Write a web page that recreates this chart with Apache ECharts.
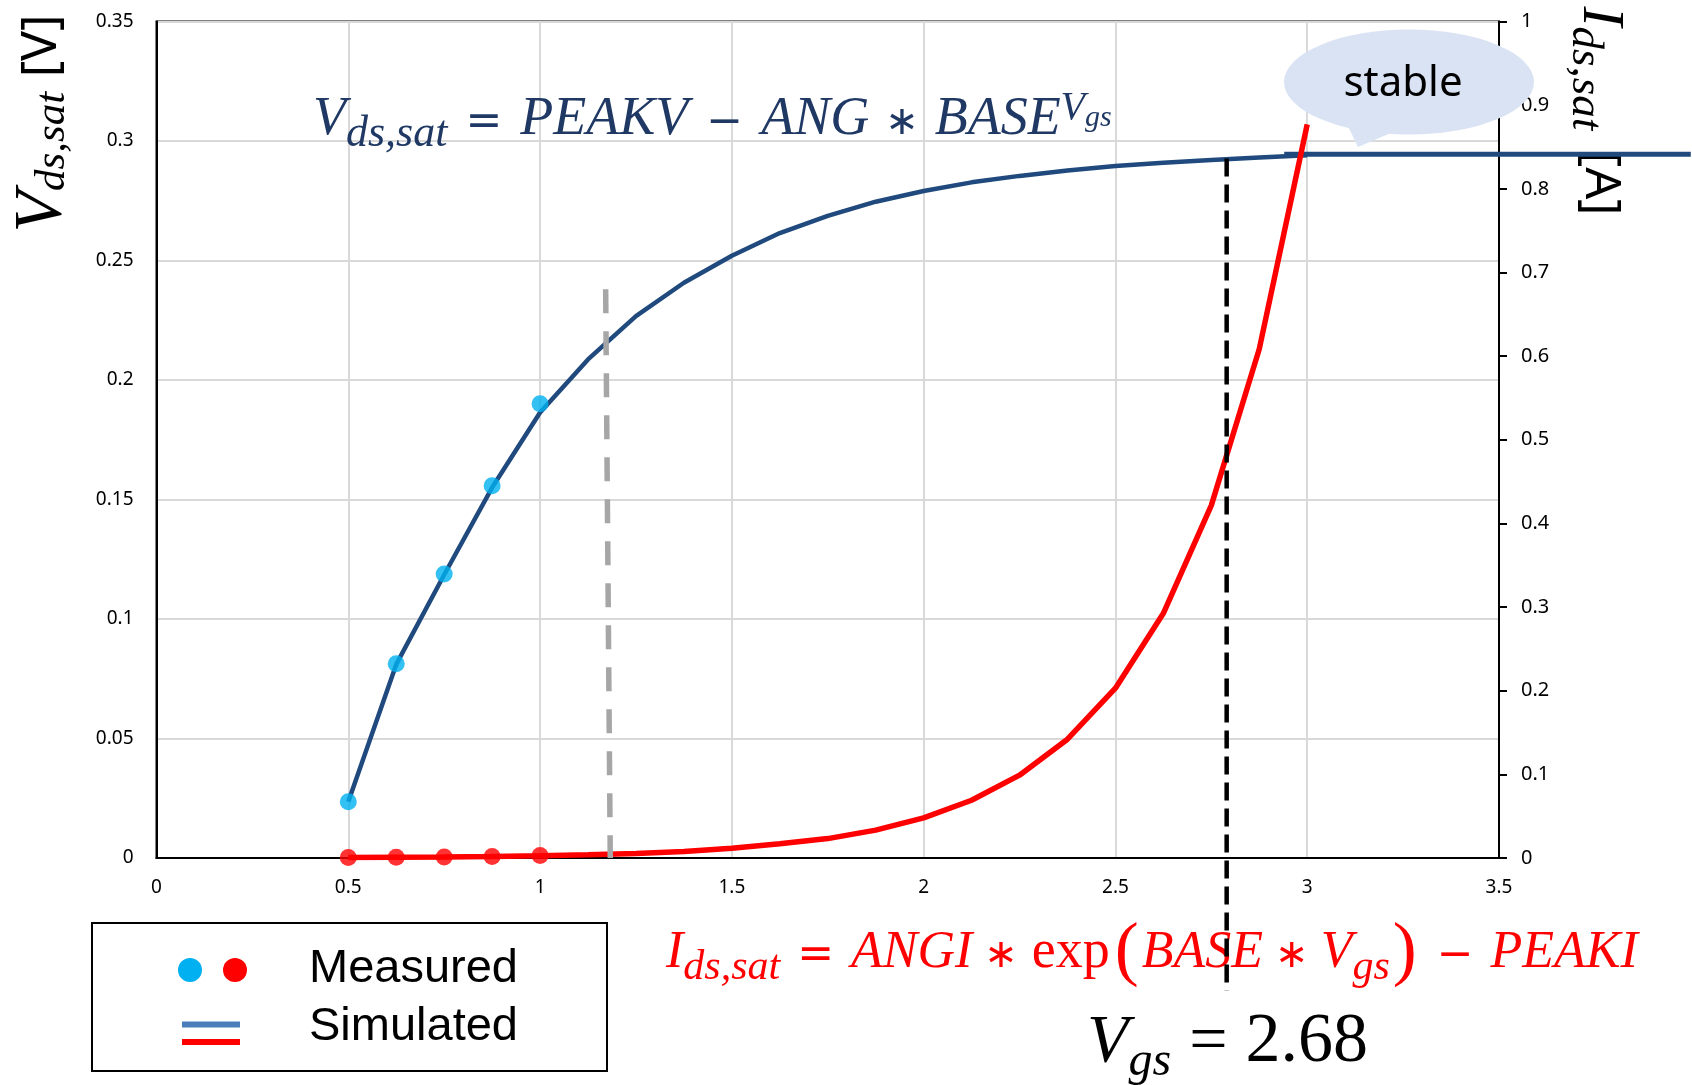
<!DOCTYPE html>
<html><head><meta charset="utf-8">
<script src="https://cdn.jsdelivr.net/npm/echarts@6/dist/echarts.min.js"></script>
<style>html,body{margin:0;padding:0;background:#fff}#c{width:1692px;height:1085px}</style>
</head><body><div id="c"></div>
<script>
// ---- data ----
const xTicks = [0, 0.5, 1, 1.5, 2, 2.5, 3, 3.5];
const leftTicks = [0, 0.05, 0.1, 0.15, 0.2, 0.25, 0.3, 0.35];
const rightTicks = [0, 0.1, 0.2, 0.3, 0.4, 0.5, 0.6, 0.7, 0.8, 0.9, 1];

const vgsSim = [0.5, 0.625, 0.75, 0.875, 1.0, 1.125, 1.25, 1.375, 1.5, 1.625, 1.75, 1.875, 2.0, 2.125, 2.25, 2.375, 2.5, 2.625, 2.75, 2.875, 3.0];
const vdsatSim = [0.0235, 0.081, 0.1185, 0.155, 0.1864, 0.2086, 0.2267, 0.2407, 0.252, 0.2615, 0.2687, 0.2746, 0.2791, 0.2827, 0.2854, 0.2877, 0.2895, 0.2909, 0.2920, 0.2931, 0.2940];
const idsatSim = [0.0006, 0.0009, 0.0012, 0.0018, 0.0027, 0.0038, 0.0055, 0.0078, 0.0116, 0.017, 0.0232, 0.0333, 0.048, 0.069, 0.099, 0.142, 0.203, 0.2925, 0.4216, 0.6085, 0.877];

const vgsMeas = [0.5, 0.625, 0.75, 0.875, 1.0];
const vdsatMeas = [0.0235, 0.0813, 0.1188, 0.1558, 0.1901];
const idsatMeas = [0.0005, 0.0008, 0.0012, 0.0018, 0.003];

// "stable" line runs past the right axis, drawn on an extended hidden x range
const stableXMax = 4.0;
const stableVgs = [2.94, 4.0];
const stableVdsat = [0.2945, 0.2945];
const markVgs = [2.79, 2.79];
const markVdsat = [0.2927, -0.0555];
const greyVgs = [1.171, 1.183];
const greyVdsat = [0.238, 0.0];

const zip = (a, b) => a.map((v, i) => [v, b[i]]);
const fmt = v => String(parseFloat(v.toFixed(2)));

const BLUE = '#204A7E', RED = '#FF0000', CYAN = '#00B0F0', EQBLUE = '#1F3864';
const SERIF = 'Liberation Serif';

const W = 1692, GL = 156.5, GR = 193;
const plotW = W - GL - GR;
const xSpan = xTicks[xTicks.length - 1] - xTicks[0];
const ext2Width = plotW * (stableXMax - xTicks[0]) / xSpan;

const chart = echarts.init(document.getElementById('c'), null, {renderer: 'canvas'});

const it = (size, color, pad) => ({fontFamily: SERIF, fontStyle: 'italic', fontSize: size, fill: color, color: color, verticalAlign: 'middle', padding: pad || [0, 0, 0, 0]});
const rm = (size, color, pad, fam) => ({fontFamily: fam || SERIF, fontSize: size, fill: color, color: color, verticalAlign: 'middle', padding: pad || [0, 0, 0, 0]});
const sans = (size, color, pad) => ({fontFamily: 'Noto Sans', fontSize: size, fill: color, color: color, verticalAlign: 'middle', padding: pad || [0, 0, 0, 0]});

const option = {
  animation: false,
  backgroundColor: '#fff',
  grid: [
    {left: GL, right: GR, top: 21.5, bottom: 227, show: true, borderColor: '#000', borderWidth: 2, containLabel: false},
    {left: GL, width: ext2Width, top: 21.5, bottom: 227, show: false, containLabel: false}
  ],
  xAxis: [{
    type: 'value', gridIndex: 0, min: xTicks[0], max: xTicks[xTicks.length - 1], interval: xTicks[1] - xTicks[0],
    axisLine: {show: true, onZero: false, lineStyle: {color: '#000', width: 2}},
    axisTick: {show: false},
    splitLine: {show: true, lineStyle: {color: '#D9D9D9', width: 2}},
    axisLabel: {fontFamily: 'Noto Sans', fontSize: 19, color: '#000', margin: 20, formatter: fmt}
  }, {
    type: 'value', gridIndex: 1, min: xTicks[0], max: stableXMax, show: false
  }],
  yAxis: [{
    type: 'value', gridIndex: 0, min: leftTicks[0], max: leftTicks[leftTicks.length - 1], interval: leftTicks[1] - leftTicks[0],
    axisLine: {show: true, lineStyle: {color: '#000', width: 2}},
    axisTick: {show: false},
    splitLine: {show: true, lineStyle: {color: '#D9D9D9', width: 2}},
    axisLabel: {fontFamily: 'Noto Sans', fontSize: 19, color: '#000', margin: 23, formatter: fmt}
  }, {
    type: 'value', gridIndex: 0, position: 'right', min: rightTicks[0], max: rightTicks[rightTicks.length - 1], interval: rightTicks[1] - rightTicks[0],
    axisLine: {show: true, lineStyle: {color: '#000', width: 2}},
    axisTick: {show: true, inside: false, length: 8, lineStyle: {color: '#000', width: 2}},
    splitLine: {show: false},
    axisLabel: {fontFamily: 'Noto Sans', fontSize: 20, color: '#000', margin: 22, formatter: fmt}
  }, {
    type: 'value', gridIndex: 1, min: leftTicks[0], max: leftTicks[leftTicks.length - 1], show: false
  }],
  series: [
    {type: 'line', name: 'Vdsat sim', data: zip(vgsSim, vdsatSim), xAxisIndex: 0, yAxisIndex: 0, showSymbol: false, symbol: 'none', z: 3,
     lineStyle: {color: BLUE, width: 4.5}},
    {type: 'line', name: 'Vdsat stable', data: zip(stableVgs, stableVdsat), xAxisIndex: 1, yAxisIndex: 2, showSymbol: false, symbol: 'none', z: 3, clip: false,
     lineStyle: {color: BLUE, width: 5}},
    {type: 'line', name: 'Idsat sim', data: zip(vgsSim, idsatSim), xAxisIndex: 0, yAxisIndex: 1, showSymbol: false, symbol: 'none', z: 3,
     lineStyle: {color: RED, width: 5.5}},
    {type: 'scatter', name: 'Vdsat meas', data: zip(vgsMeas, vdsatMeas), xAxisIndex: 0, yAxisIndex: 0, symbol: 'circle', symbolSize: 17, z: 4,
     itemStyle: {color: CYAN}},
    {type: 'scatter', name: 'Idsat meas', data: zip(vgsMeas, idsatMeas), xAxisIndex: 0, yAxisIndex: 1, symbol: 'circle', symbolSize: 17, z: 4,
     itemStyle: {color: RED}},
    {type: 'line', name: 'grey marker', data: zip(greyVgs, greyVdsat), xAxisIndex: 0, yAxisIndex: 0, showSymbol: false, symbol: 'none', z: 5, clip: false,
     lineStyle: {color: '#A6A6A6', width: 5.5, type: [24, 18]}},
    {type: 'line', name: 'Vgs marker', data: zip(markVgs, markVdsat), xAxisIndex: 0, yAxisIndex: 0, showSymbol: false, symbol: 'none', z: 5, clip: false,
     lineStyle: {color: '#000', width: 4.5, type: [18, 8]}}
  ],
  graphic: [
    // left axis title
    {type: 'text', x: 42, y: 123.5, rotation: Math.PI / 2, z: 1,
     style: {text: '{i|V}{s|ds,sat}{g| }{b|[V]}', align: 'center', verticalAlign: 'middle', textAlign: 'center', textVerticalAlign: 'middle',
       rich: {i: it(68, '#000'), s: it(43, '#000', [22, 0, 0, 0]), g: rm(10, '#000', [0, 6, 0, 6]), b: sans(50, '#000')}}},
    // right axis title
    {type: 'text', x: 1600, y: 111, rotation: -Math.PI / 2, z: 1,
     style: {text: '{i|I}{s|ds,sat}{g| }{b|[A]}', align: 'center', verticalAlign: 'middle', textAlign: 'center', textVerticalAlign: 'middle',
       rich: {i: it(60, '#000'), s: it(45, '#000', [31, 0, 0, 0]), g: rm(10, '#000', [0, 9, 0, 9]), b: sans(50, '#000')}}},
    // blue equation
    {type: 'text', x: 313, y: 120, z: 1,
     style: {text: '{i|V}{s|ds,sat}{o|=}{i|PEAKV}{o|−}{i|ANG}{a|∗}{i|BASE}{p|V}{q|gs}', align: 'left', verticalAlign: 'middle', textAlign: 'left', textVerticalAlign: 'middle',
       rich: {i: it(54, EQBLUE), s: it(44, EQBLUE, [29, 0, 0, 0]),
              o: rm(44, EQBLUE, [8, 18, 0, 18], 'DejaVu Sans'), a: rm(40, EQBLUE, [8, 16, 0, 16], 'DejaVu Sans'),
              p: it(40, EQBLUE, [0, 0, 23, 0]), q: it(30, EQBLUE, [0, 0, 4, 0])}}},
    // red equation
    {type: 'text', x: 666, y: 953, z: 1,
     style: {text: '{i|I}{s|ds,sat}{o|=}{i|ANGI}{a|∗}{r|exp}{b|(}{i|BASE}{a|∗}{i|V}{s|gs}{b|)}{o|−}{i|PEAKI}', align: 'left', verticalAlign: 'middle', textAlign: 'left', textVerticalAlign: 'middle',
       rich: {i: it(52, RED), s: it(42, RED, [29, 0, 0, 0]),
              o: rm(44, RED, [8, 17, 0, 17], 'DejaVu Sans'), a: rm(40, RED, [8, 12, 0, 12], 'DejaVu Sans'),
              r: rm(54, RED, [0, 2, 0, 2]), b: rm(72, RED, [0, 3, 0, 3])}}},
    // Vgs = 2.68
    {type: 'text', x: 1087, y: 1043, z: 1,
     style: {text: '{i|V}{s|gs}{o|=}{n|2.68}', align: 'left', verticalAlign: 'middle', textAlign: 'left', textVerticalAlign: 'middle',
       rich: {i: it(68, '#000'), s: it(48, '#000', [38, 0, 0, 0]), o: rm(68, '#000', [0, 18, 0, 18]), n: rm(70, '#000')}}},
    // legend box
    {type: 'rect', z: 1, shape: {x: 92, y: 923, width: 515, height: 148}, style: {fill: '#fff', stroke: '#000', lineWidth: 2}},
    {type: 'circle', z: 2, shape: {cx: 190, cy: 970, r: 12}, style: {fill: CYAN}},
    {type: 'circle', z: 2, shape: {cx: 235, cy: 970, r: 12}, style: {fill: RED}},
    {type: 'line', z: 2, shape: {x1: 182, y1: 1024.5, x2: 240, y2: 1024.5}, style: {stroke: '#4A7EBB', lineWidth: 6}},
    {type: 'line', z: 2, shape: {x1: 182, y1: 1042, x2: 240, y2: 1042}, style: {stroke: RED, lineWidth: 6}},
    {type: 'text', z: 2, x: 309, y: 968.7, style: {text: 'Measured', fontFamily: 'Liberation Sans', fontSize: 47, fill: '#000', align: 'left', verticalAlign: 'middle', textAlign: 'left', textVerticalAlign: 'middle'}},
    {type: 'text', z: 2, x: 309, y: 1026.7, style: {text: 'Simulated', fontFamily: 'Liberation Sans', fontSize: 47, fill: '#000', align: 'left', verticalAlign: 'middle', textAlign: 'left', textVerticalAlign: 'middle'}},
    // callout
    {type: 'circle', z: 10, x: 1409, y: 82, scaleX: 125 / 52.5, shape: {cx: 0, cy: 0, r: 52.5}, style: {fill: '#DAE3F3'}},
    {type: 'polygon', z: 10, shape: {points: [[1346, 122], [1358, 147], [1398, 130]]}, style: {fill: '#DAE3F3'}},
    {type: 'text', z: 11, x: 1403, y: 84, style: {text: 'stable', fontFamily: 'Noto Sans', fontSize: 42, fill: '#000', align: 'center', verticalAlign: 'middle', textAlign: 'center', textVerticalAlign: 'middle'}}
  ]
};
chart.setOption(option);
</script>
</body></html>
